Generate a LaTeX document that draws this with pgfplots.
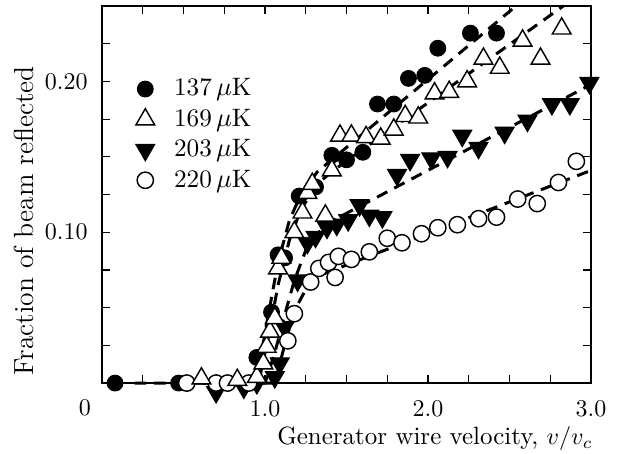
\documentclass[border=0pt]{standalone}
\usepackage{pgfplots}
\pgfplotsset{compat=1.18}
\begin{document}
\begin{tikzpicture}
\begin{axis}[
 name=ax,
 scale only axis,
 width=203.75pt, height=157.1pt,
 xmin=0, xmax=3, ymin=0, ymax=0.25,
 clip=false,
 xtick={1,2,3}, xticklabels={1.0,2.0,3.0},
 minor xtick={0.25,0.5,0.75,1.25,1.5,1.75,2.25,2.5,2.75},
 ytick={0.1,0.2}, yticklabels={0.10,0.20},
 minor ytick={0.025,0.05,0.075,0.125,0.15,0.175,0.225},
 tick align=inside,
 major tick length=3.3pt, minor tick length=3.3pt,
 tick style={black, line width=0.5pt},
 axis line style={line width=0.5pt},
 xticklabel style={yshift=-3.65pt},
 yticklabel style={xshift=-2.5pt},
 xlabel={Generator wire velocity, $v/v_c$},
 xlabel style={at={([xshift=4.2pt,yshift=-25.8pt]axis description cs:1,0)}, anchor=base east, font=\fontsize{10.4}{12.5}\selectfont},
 ylabel={Fraction of beam reflected},
 ylabel style={at={([xshift=-32.5pt,yshift=-11pt]axis description cs:0,0.5)}, anchor=center, font=\fontsize{11.5}{14}\selectfont},
 legend style={draw=none, fill=none, inner sep=0pt, at={(axis description cs:0.068,0.815)}, anchor=north west, font=\fontsize{10.5}{12.5}\selectfont, nodes={inner sep=1pt}, row sep=2.0pt, /tikz/every odd column/.append style={column sep=7pt}},
 legend cell align=left,
]
% dashed fits
\addplot[forget plot, black, line width=1.25pt, dash pattern=on 4.8pt off 3.3pt] coordinates {(0.2,0) (0.92,0) (0.97,0.015) (1.02,0.045) (1.08,0.08) (1.15,0.108) (1.22,0.125) (1.32,0.140) (2.54,0.25)};
\addplot[forget plot, black, line width=1.25pt, dash pattern=on 4.8pt off 3.3pt] coordinates {(0.5,0) (0.96,0) (1.02,0.03) (1.08,0.065) (1.15,0.095) (1.22,0.115) (1.32,0.132) (1.42,0.141) (2.83,0.25)};
\addplot[forget plot, black, line width=1.25pt, dash pattern=on 4.8pt off 3.3pt] coordinates {(0.5,0) (1.0,0) (1.06,0.02) (1.12,0.045) (1.18,0.068) (1.25,0.088) (1.33,0.100) (1.42,0.108) (3.0,0.198)};
\addplot[forget plot, black, line width=1.25pt, dash pattern=on 4.8pt off 3.3pt] coordinates {(0.5,0) (1.06,0) (1.12,0.025) (1.18,0.048) (1.25,0.062) (1.35,0.072) (3.0,0.141)};
% 137 uK
\addplot[forget plot, only marks, black, mark=*, mark size=3.3pt] coordinates {
(0.08,0) (0.47,0) (0.95,0.017) (1.04,0.047) (1.08,0.085) (1.12,0.083) (1.21,0.124) (1.31,0.130)
(1.41,0.151) (1.50,0.148) (1.60,0.153) (1.69,0.185) (1.79,0.185) (1.88,0.202) (1.98,0.204)
(2.06,0.222) (2.26,0.232) (2.42,0.232)};
% 203 uK
\addplot[forget plot, only marks, black, mark=triangle*, mark size=4.6pt, mark options={rotate=180}] coordinates {
(0.70,-0.006) (0.87,-0.003) (0.95,0) (1.06,0.004) (1.09,0.013) (1.12,0.037) (1.20,0.068) (1.26,0.093)
(1.31,0.097) (1.38,0.103) (1.44,0.105) (1.51,0.108) (1.58,0.118) (1.64,0.111) (1.72,0.110)
(1.81,0.138) (1.89,0.148) (2.02,0.149) (2.12,0.150) (2.21,0.164) (2.31,0.156) (2.47,0.166)
(2.61,0.174) (2.76,0.185) (2.87,0.185) (2.99,0.199)};
% 220 uK
\addplot[forget plot, only marks, black, mark=*, mark size=3.4pt, mark options={fill=white, line width=0.6pt}] coordinates {
(0.52,0) (0.70,0) (0.77,0) (0.90,0) (1.14,0.028) (1.18,0.046) (1.28,0.067) (1.33,0.076) (1.39,0.080)
(1.43,0.070) (1.45,0.084) (1.53,0.082) (1.64,0.087) (1.75,0.096) (1.84,0.093) (1.96,0.099)
(2.06,0.103) (2.18,0.105) (2.31,0.109) (2.42,0.110) (2.55,0.122) (2.67,0.119) (2.80,0.133) (2.91,0.147)};
% 169 uK
\addplot[forget plot, only marks, black, mark=triangle*, mark size=4.5pt, mark options={fill=white, line width=0.6pt}] coordinates {
(0.61,0.003) (0.83,0.002) (0.95,0.004) (0.99,0.013) (1.01,0.024) (1.03,0.034) (1.06,0.043) (1.08,0.076)
(1.10,0.083) (1.18,0.100) (1.23,0.113) (1.26,0.126) (1.29,0.132) (1.37,0.111) (1.41,0.141)
(1.46,0.164) (1.53,0.164) (1.62,0.163) (1.71,0.162) (1.79,0.168) (1.86,0.177) (1.94,0.176)
(2.04,0.192) (2.13,0.193) (2.24,0.200) (2.34,0.215) (2.44,0.209) (2.58,0.227) (2.69,0.215) (2.82,0.235)};
% legend
\addlegendimage{only marks, black, mark=*, mark size=3.3pt}
\addlegendentry{137\,$\mu$K}
\addlegendimage{only marks, black, mark=triangle*, mark size=4.5pt, mark options={fill=white, line width=0.6pt}}
\addlegendentry{169\,$\mu$K}
\addlegendimage{only marks, black, mark=triangle*, mark size=4.6pt, mark options={rotate=180}}
\addlegendentry{203\,$\mu$K}
\addlegendimage{only marks, black, mark=*, mark size=3.4pt, mark options={fill=white, line width=0.6pt}}
\addlegendentry{220\,$\mu$K}
\end{axis}
\node at ([xshift=-7.1pt,yshift=-10.4pt]ax.south west) {0};
\pgfresetboundingbox
\path ([xshift=-42.5pt,yshift=-29.2pt]ax.south west) rectangle ([xshift=15.4pt,yshift=2.5pt]ax.north east);
\end{tikzpicture}
\end{document}
